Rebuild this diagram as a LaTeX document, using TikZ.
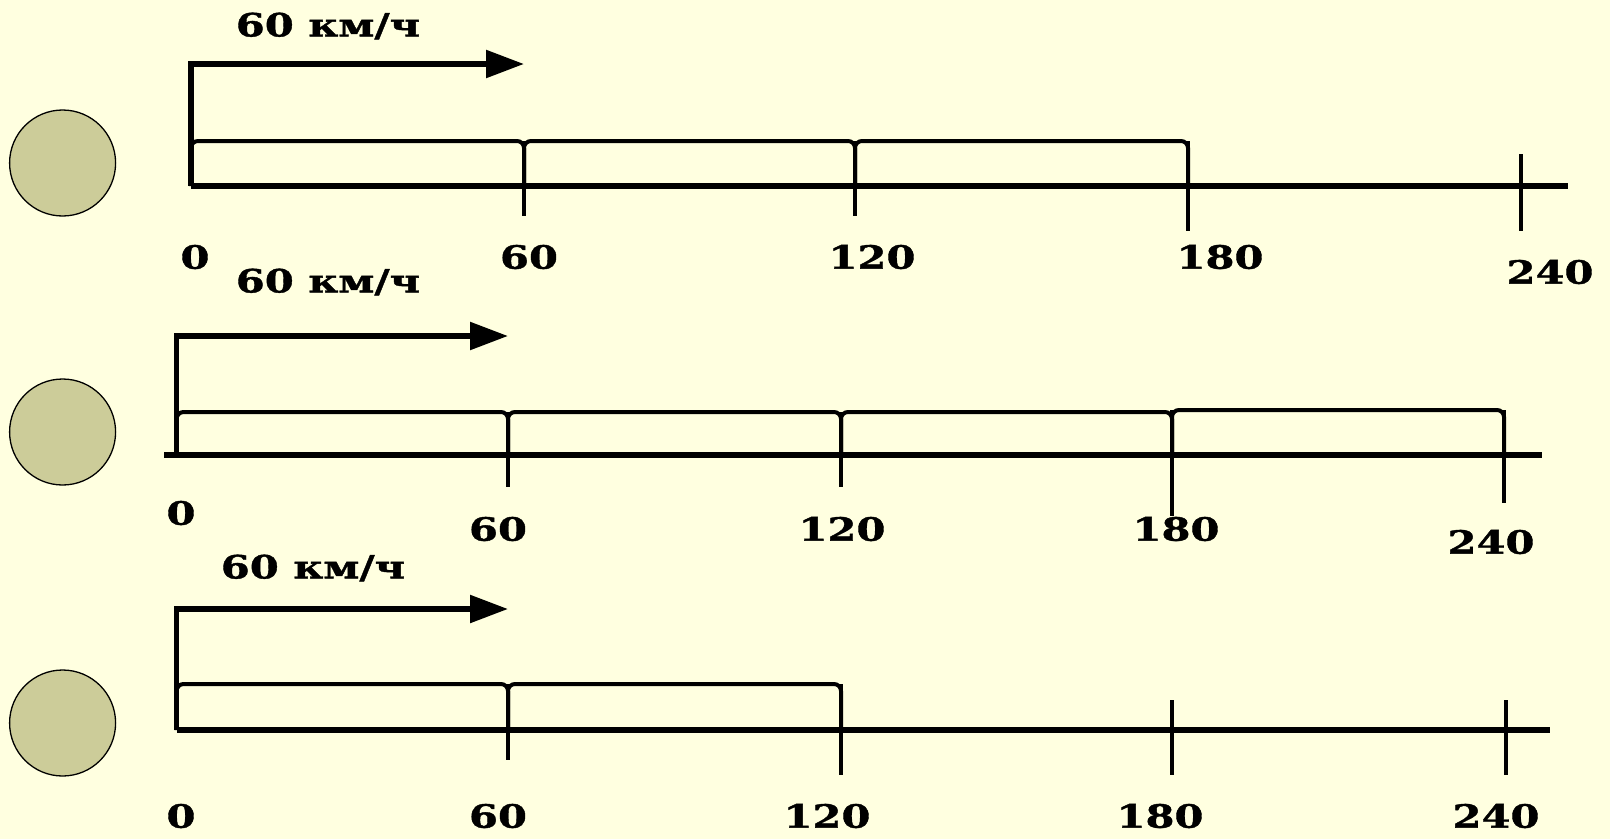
\documentclass[tikz,border=0pt]{standalone}
\usepackage{fontspec}
\setmainfont{DejaVu Serif}[FakeStretch=1.3, BoldFeatures={FakeBold=1.2}]
\usetikzlibrary{arrows.meta}
\definecolor{paper}{HTML}{FFFFE0}
\definecolor{olive}{HTML}{CCCC99}

\begin{document}
\begin{tikzpicture}[x=1pt, y=-1pt]
\tikzstyle{ball} = [circle, minimum size=106pt, inner sep=0pt, fill=olive, draw=black, line width=1.3pt]
\tikzstyle{axis} = [line width=5.5pt]
\tikzstyle{arrow} = [line width=5.5pt, -{Triangle[length=38pt, width=27pt]}]
\tikzstyle{seg} = [line width=4pt, rounded corners=7pt]
\tikzstyle{tick} = [line width=3.2pt]
\tikzstyle{num} = [font=\fontsize{32}{36}\selectfont\bfseries, inner sep=0pt]
 % background and frame
\fill [paper] (0,0) rectangle (1610,839);
\useasboundingbox (0,0) rectangle (1610,839);

 % first row
\node (ball1) [ball] at (62.6,163) {};
\coordinate (o1) at (191,186);
\coordinate (e1) at (1568,186);
\coordinate (v1) at (191,64);
\coordinate (h1) at (524,64);
\node (speed1) [num] at (328,26) {60 км/ч};
\draw [axis] (o1) -- (e1);
\draw [arrow] (o1) -- (v1) -- (h1);
\draw [seg] (191,186) -- (191,141) -- (524,141) -- (524,186);
\draw [seg] (524,186) -- (524,141) -- (855,141) -- (855,186);
\draw [seg] (855,186) -- (855,141) -- (1188,141) -- (1188,186);
\draw [tick] (524,141) -- (524,216);
\draw [tick] (855,141) -- (855,216);
\draw [tick] (1188,141) -- (1188,231);
\draw [tick] (1521,154) -- (1521,231);
\node (n01) [num] at (195,257) {0};
\node (n601) [num] at (529,257) {60};
\node (n1201) [num] at (872,257) {120};
\node (n1801) [num] at (1220,257) {180};
\node (n2401) [num] at (1550,272) {240};

 % second row
\node (ball2) [ball] at (62.6,432) {};
\coordinate (o2) at (176.6,455);
\coordinate (s2) at (164,455);
\coordinate (e2) at (1542,455);
\coordinate (v2) at (176.6,336);
\coordinate (h2) at (508,336);
\node (speed2) [num] at (328,282) {60 км/ч};
\draw [axis] (s2) -- (e2);
\draw [arrow] (o2) -- (v2) -- (h2);
\draw [seg] (176.6,455) -- (176.6,412) -- (508,412) -- (508,455);
\draw [seg] (508,455) -- (508,412) -- (841,412) -- (841,455);
\draw [seg] (841,455) -- (841,412) -- (1172,412) -- (1172,455);
\draw [seg] (1172,455) -- (1172,410) -- (1504,410) -- (1504,455);
\draw [tick] (508,412) -- (508,487);
\draw [tick] (841,412) -- (841,487);
\draw [tick] (1172,410) -- (1172,516);
\draw [tick] (1504,410) -- (1504,503);
\node (n02) [num] at (181,513) {0};
\node (n602) [num] at (498,529) {60};
\node (n1202) [num] at (842,529) {120};
\node (n1802) [num] at (1176,529) {180};
\node (n2402) [num] at (1491,542) {240};

 % third row
\node (ball3) [ball] at (62.6,723) {};
\coordinate (o3) at (176.6,730);
\coordinate (e3) at (1550,730);
\coordinate (v3) at (176.6,609);
\coordinate (h3) at (508,609);
\node (speed3) [num] at (313,568) {60 км/ч};
\draw [axis] (o3) -- (e3);
\draw [arrow] (o3) -- (v3) -- (h3);
\draw [seg] (176.6,730) -- (176.6,684) -- (508,684) -- (508,730);
\draw [seg] (508,730) -- (508,684) -- (841,684) -- (841,730);
\draw [tick] (508,684) -- (508,760);
\draw [tick] (841,684) -- (841,775);
\draw [tick] (1172,700) -- (1172,775);
\draw [tick] (1506,700) -- (1506,775);
\node (n03) [num] at (181,816) {0};
\node (n603) [num] at (498,816) {60};
\node (n1203) [num] at (827,816) {120};
\node (n1803) [num] at (1160,816) {180};
\node (n2403) [num] at (1496,816) {240};
\end{tikzpicture}
\end{document}
